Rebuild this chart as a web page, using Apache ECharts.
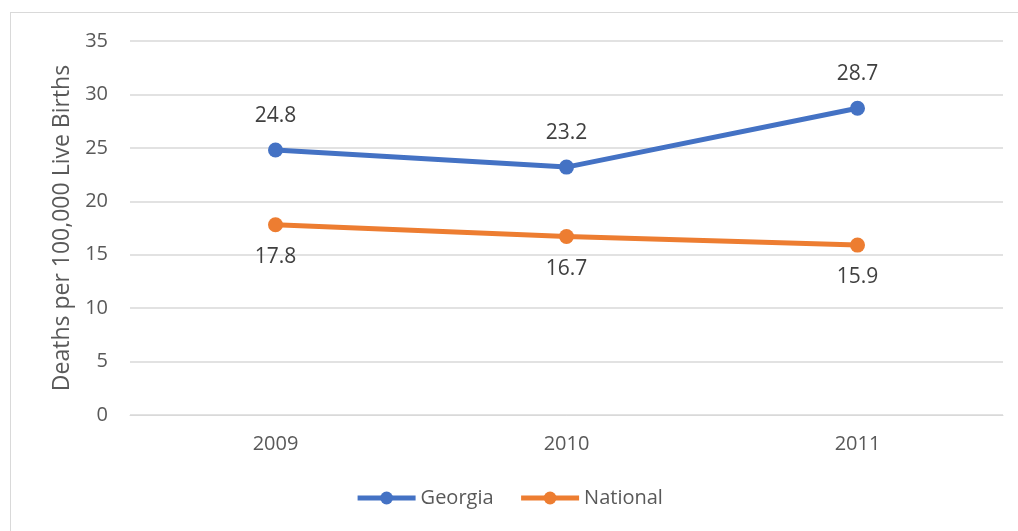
<!DOCTYPE html>
<html>
<head>
<meta charset="utf-8">
<script src="https://cdn.jsdelivr.net/npm/echarts@6/dist/echarts.min.js"></script>
<style>
  html, body { margin: 0; padding: 0; background: #fff; }
  #frame { position: absolute; left: 10px; top: 12px; width: 1020px; height: 530px; border: 1px solid #d9d9d9; }
  #main { width: 1018px; height: 531px; position: absolute; left: 0; top: 0; }
</style>
</head>
<body>
<div id="frame"></div>
<div id="main"></div>
<script>
  // data
  var years = ['2009', '2010', '2011'];
  var georgia = [24.8, 23.2, 28.7];
  var national = [17.8, 16.7, 15.9];

  var font = 'Open Sans, Noto Sans, sans-serif';
  var myChart = echarts.init(document.getElementById('main'));

  var option = {
    animation: false,
    textStyle: { fontFamily: font },
    grid: { left: 130, right: 15, top: 41, bottom: 116 },
    legend: {
      bottom: 18,
      left: 'center',
      itemWidth: 58,
      itemHeight: 16,
      itemGap: 25,
      lineStyle: { width: 5 },
      textStyle: { fontSize: 20, color: '#595959', fontFamily: font },
      data: ['Georgia', 'National']
    },
    xAxis: {
      type: 'category',
      data: years,
      axisLine: { lineStyle: { color: '#d9d9d9' } },
      axisTick: { show: false },
      axisLabel: { fontSize: 20, color: '#595959', margin: 19 }
    },
    yAxis: {
      type: 'value',
      min: 0,
      max: 35,
      interval: 5,
      name: 'Deaths per 100,000 Live Births',
      nameLocation: 'middle',
      nameGap: 56,
      nameTextStyle: { fontSize: 23, color: '#595959' },
      axisLine: { show: false },
      axisTick: { show: false },
      axisLabel: { fontSize: 20, color: '#595959', margin: 22 },
      splitLine: { lineStyle: { color: '#d9d9d9', width: 1.5 } }
    },
    series: [
      {
        name: 'Georgia',
        type: 'line',
        data: georgia,
        symbol: 'circle',
        symbolSize: 15,
        lineStyle: { width: 5, color: '#4472c4' },
        itemStyle: { color: '#4472c4' },
        label: { show: true, position: 'top', distance: 16, fontSize: 21, color: '#404040' }
      },
      {
        name: 'National',
        type: 'line',
        data: national,
        symbol: 'circle',
        symbolSize: 15,
        lineStyle: { width: 5, color: '#ed7d31' },
        itemStyle: { color: '#ed7d31' },
        label: { show: true, position: 'bottom', distance: 14, fontSize: 21, color: '#404040' }
      }
    ]
  };
  myChart.setOption(option);
</script>
</body>
</html>
